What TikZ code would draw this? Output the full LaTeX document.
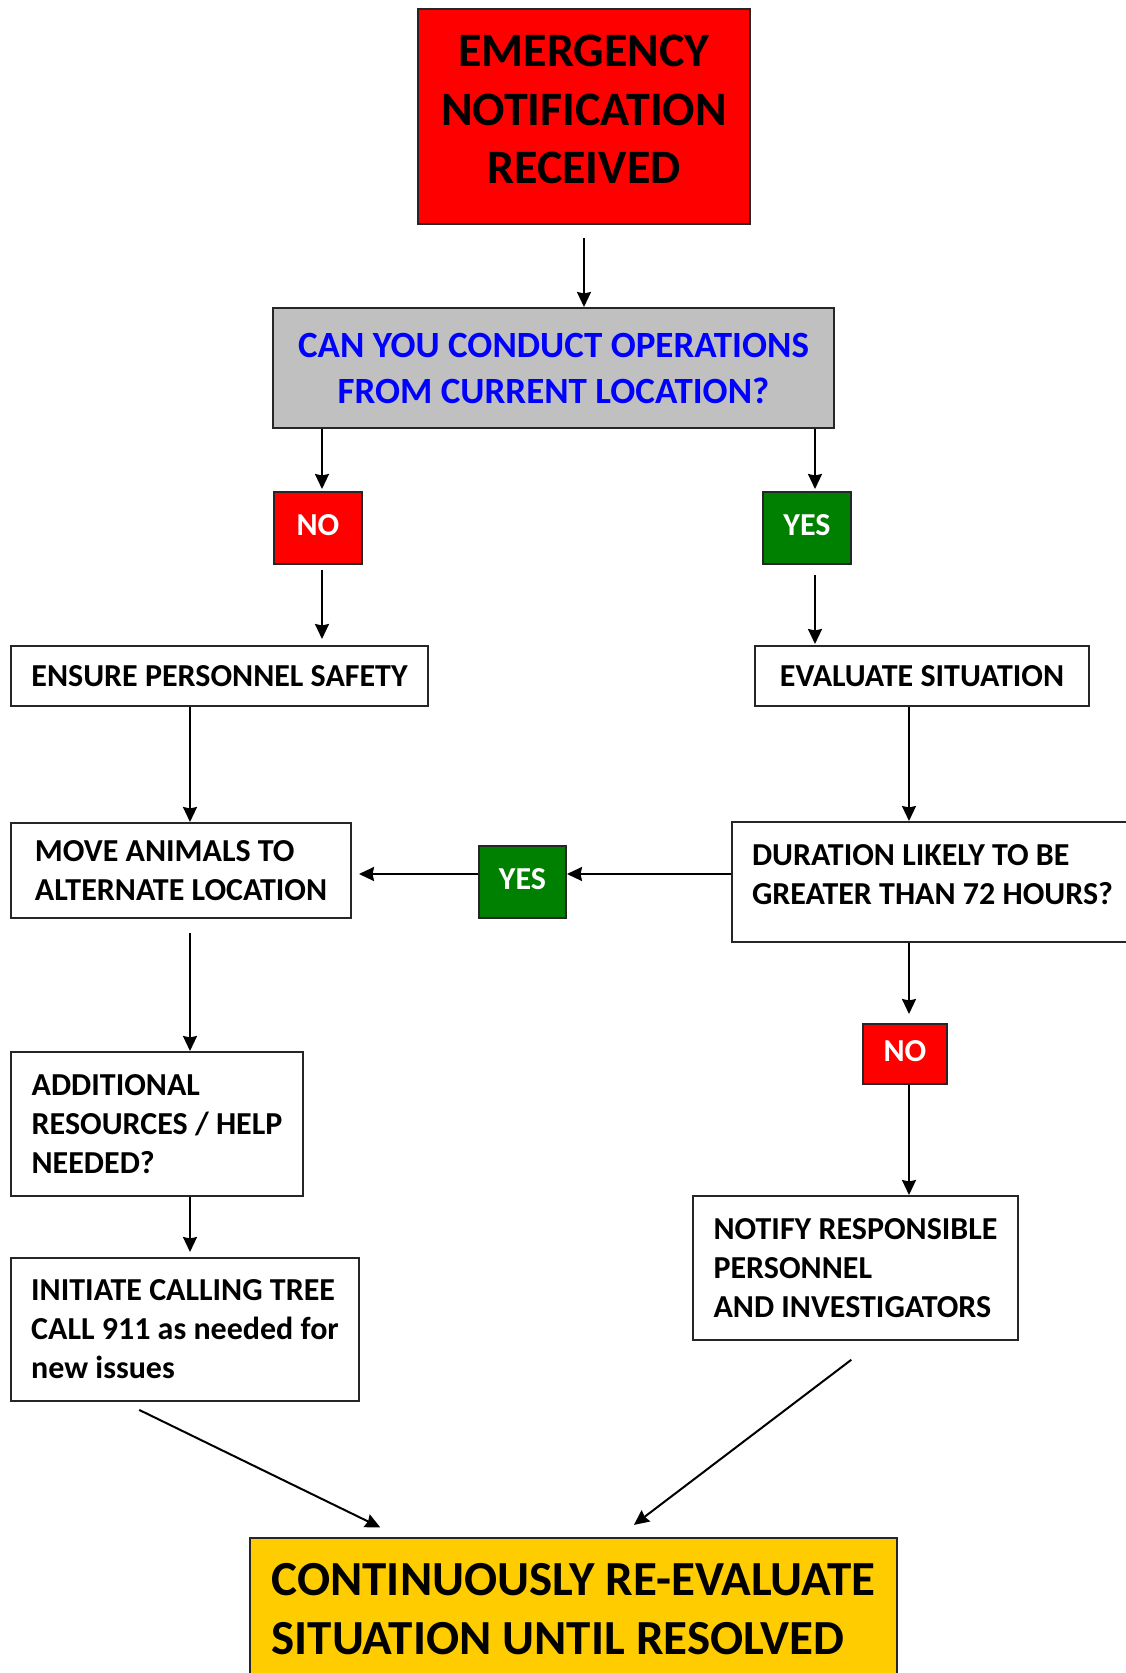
\documentclass[tikz,border=0pt]{standalone}
\usepackage{fontspec}
\setmainfont{Carlito}
\usetikzlibrary{arrows.meta, positioning}

\definecolor{qgray}{HTML}{C0C0C0}
\definecolor{qblue}{HTML}{0000FF}
\definecolor{yesgreen}{HTML}{008000}
\definecolor{endyellow}{HTML}{FFCC00}

\begin{document}
\begin{tikzpicture}[
    x=1pt, y=-1pt,
    % Stili per i riquadri
    stepbox/.style={rectangle, draw=black!85, line width=2pt, fill=white, align=left, inner xsep=20pt, inner ysep=0pt, font=\fontsize{32}{39}\selectfont\bfseries},
    startbox/.style={stepbox, fill=red, align=center, font=\fontsize{48}{58.6}\selectfont\bfseries},
    questbox/.style={stepbox, fill=qgray, text=qblue, align=center, font=\fontsize{37}{46}\selectfont\bfseries},
    endbox/.style={stepbox, fill=endyellow, font=\fontsize{49}{58.6}\selectfont\bfseries},
    % Stili per le risposte
    answer/.style={rectangle, draw=black!85, line width=2pt, text=white, minimum width=88pt, minimum height=72pt, inner sep=0pt, text depth=6pt, font=\fontsize{32}{39}\selectfont\bfseries},
    noanswer/.style={answer, fill=red},
    yesanswer/.style={answer, fill=yesgreen},
    % Stili per le frecce
    flow/.style={-{Stealth[length=15pt,width=14pt,inset=1.5pt]}, line width=2pt}
]

\path[use as bounding box, fill=white] (0,0) rectangle (1126,1673);
\clip (0,0) rectangle (1126,1673);

% === INIZIO ===
\node[startbox, minimum width=332pt, minimum height=215pt, text depth=14pt] (notice) at (584,116.5) {EMERGENCY\\NOTIFICATION\\RECEIVED};
\node[questbox, minimum width=561pt, minimum height=120pt] (question) at (553.5,368) {CAN YOU CONDUCT OPERATIONS\\FROM CURRENT LOCATION?};

% === RISPOSTE ===
\node[noanswer] (no1) at (318,528) {NO};
\node[yesanswer] (yes1) at (807,528) {YES};

% === RAMO SINISTRO ===
\node[stepbox, minimum width=417pt, minimum height=60pt] (safety) at (219.5,676) {ENSURE PERSONNEL SAFETY};
\node[stepbox, minimum width=340pt, minimum height=95pt] (move) at (181,870.5) {MOVE ANIMALS TO\\ALTERNATE LOCATION};
\node[stepbox, minimum width=292pt, minimum height=144pt] (resources) at (157,1124) {ADDITIONAL\\RESOURCES / HELP\\NEEDED?};
\node[stepbox, minimum width=348pt, minimum height=143pt] (calltree) at (185,1329.5) {INITIATE CALLING TREE\\CALL 911 as needed for\\new issues};

% === RAMO DESTRO ===
\node[stepbox, minimum width=334pt, minimum height=60pt] (evaluate) at (922,676) {EVALUATE SITUATION};
\node[stepbox, minimum height=120pt, text depth=15pt, anchor=west] (duration) at (731,882) {DURATION LIKELY TO BE\\GREATER THAN 72 HOURS?};
\node[yesanswer, minimum width=87pt] (yes2) at (522.5,882) {YES};
\node[noanswer, minimum width=84pt, minimum height=60pt] (no2) at (905,1054) {NO};
\node[stepbox, minimum width=325pt, minimum height=144pt] (notify) at (855.5,1268) {NOTIFY RESPONSIBLE\\PERSONNEL\\AND INVESTIGATORS};

% === FINE ===
\node[endbox, minimum width=647pt, minimum height=142pt] (reeval) at (573.5,1609) {CONTINUOUSLY RE-EVALUATE\\SITUATION UNTIL RESOLVED};

% === CONNESSIONI ===
\coordinate (leftlane) at (190,0);
\coordinate (rightlane) at (909,0);
\coordinate (nolane) at (322,0);
\coordinate (yeslane) at (815,0);
\coordinate (midlane) at (0,874);

\draw[flow, shorten <=13pt] (notice.south) -- (notice.south |- question.north);
\draw[flow, shorten >=2pt] (question.south -| nolane) -- (no1.north -| nolane);
\draw[flow, shorten >=2pt] (question.south -| yeslane) -- (yes1.north -| yeslane);
\draw[flow, shorten <=5pt, shorten >=6pt] (no1.south -| nolane) -- (safety.north -| nolane);
\draw[flow, shorten <=10pt, shorten >=1pt] (yes1.south -| yeslane) -- (evaluate.north -| yeslane);

% Ramo sinistro
\draw[flow] (safety.south -| leftlane) -- (move.north -| leftlane);
\draw[flow, shorten <=14pt] (move.south -| leftlane) -- (resources.north -| leftlane);
\draw[flow, shorten >=5pt] (resources.south -| leftlane) -- (calltree.north -| leftlane);

% Ramo destro
\draw[flow] (evaluate.south -| rightlane) -- (duration.north -| rightlane);
\draw[flow] (duration.west |- midlane) -- (yes2.east |- midlane);
\draw[flow, shorten >=7pt] (yes2.west |- midlane) -- (move.east |- midlane);
\draw[flow, shorten >=9pt] (duration.south -| rightlane) -- (no2.north -| rightlane);
\draw[flow] (no2.south -| rightlane) -- (notify.north -| rightlane);

% Verso la fine
\draw[flow, shorten <=18pt, shorten >=22pt] ([xshift=113pt]calltree.south west) -- ([xshift=151pt]reeval.north west);
\draw[flow, shorten <=31pt, shorten >=20pt] ([xshift=184pt]notify.south west) -- ([xshift=369pt]reeval.north west);

\end{tikzpicture}
\end{document}
